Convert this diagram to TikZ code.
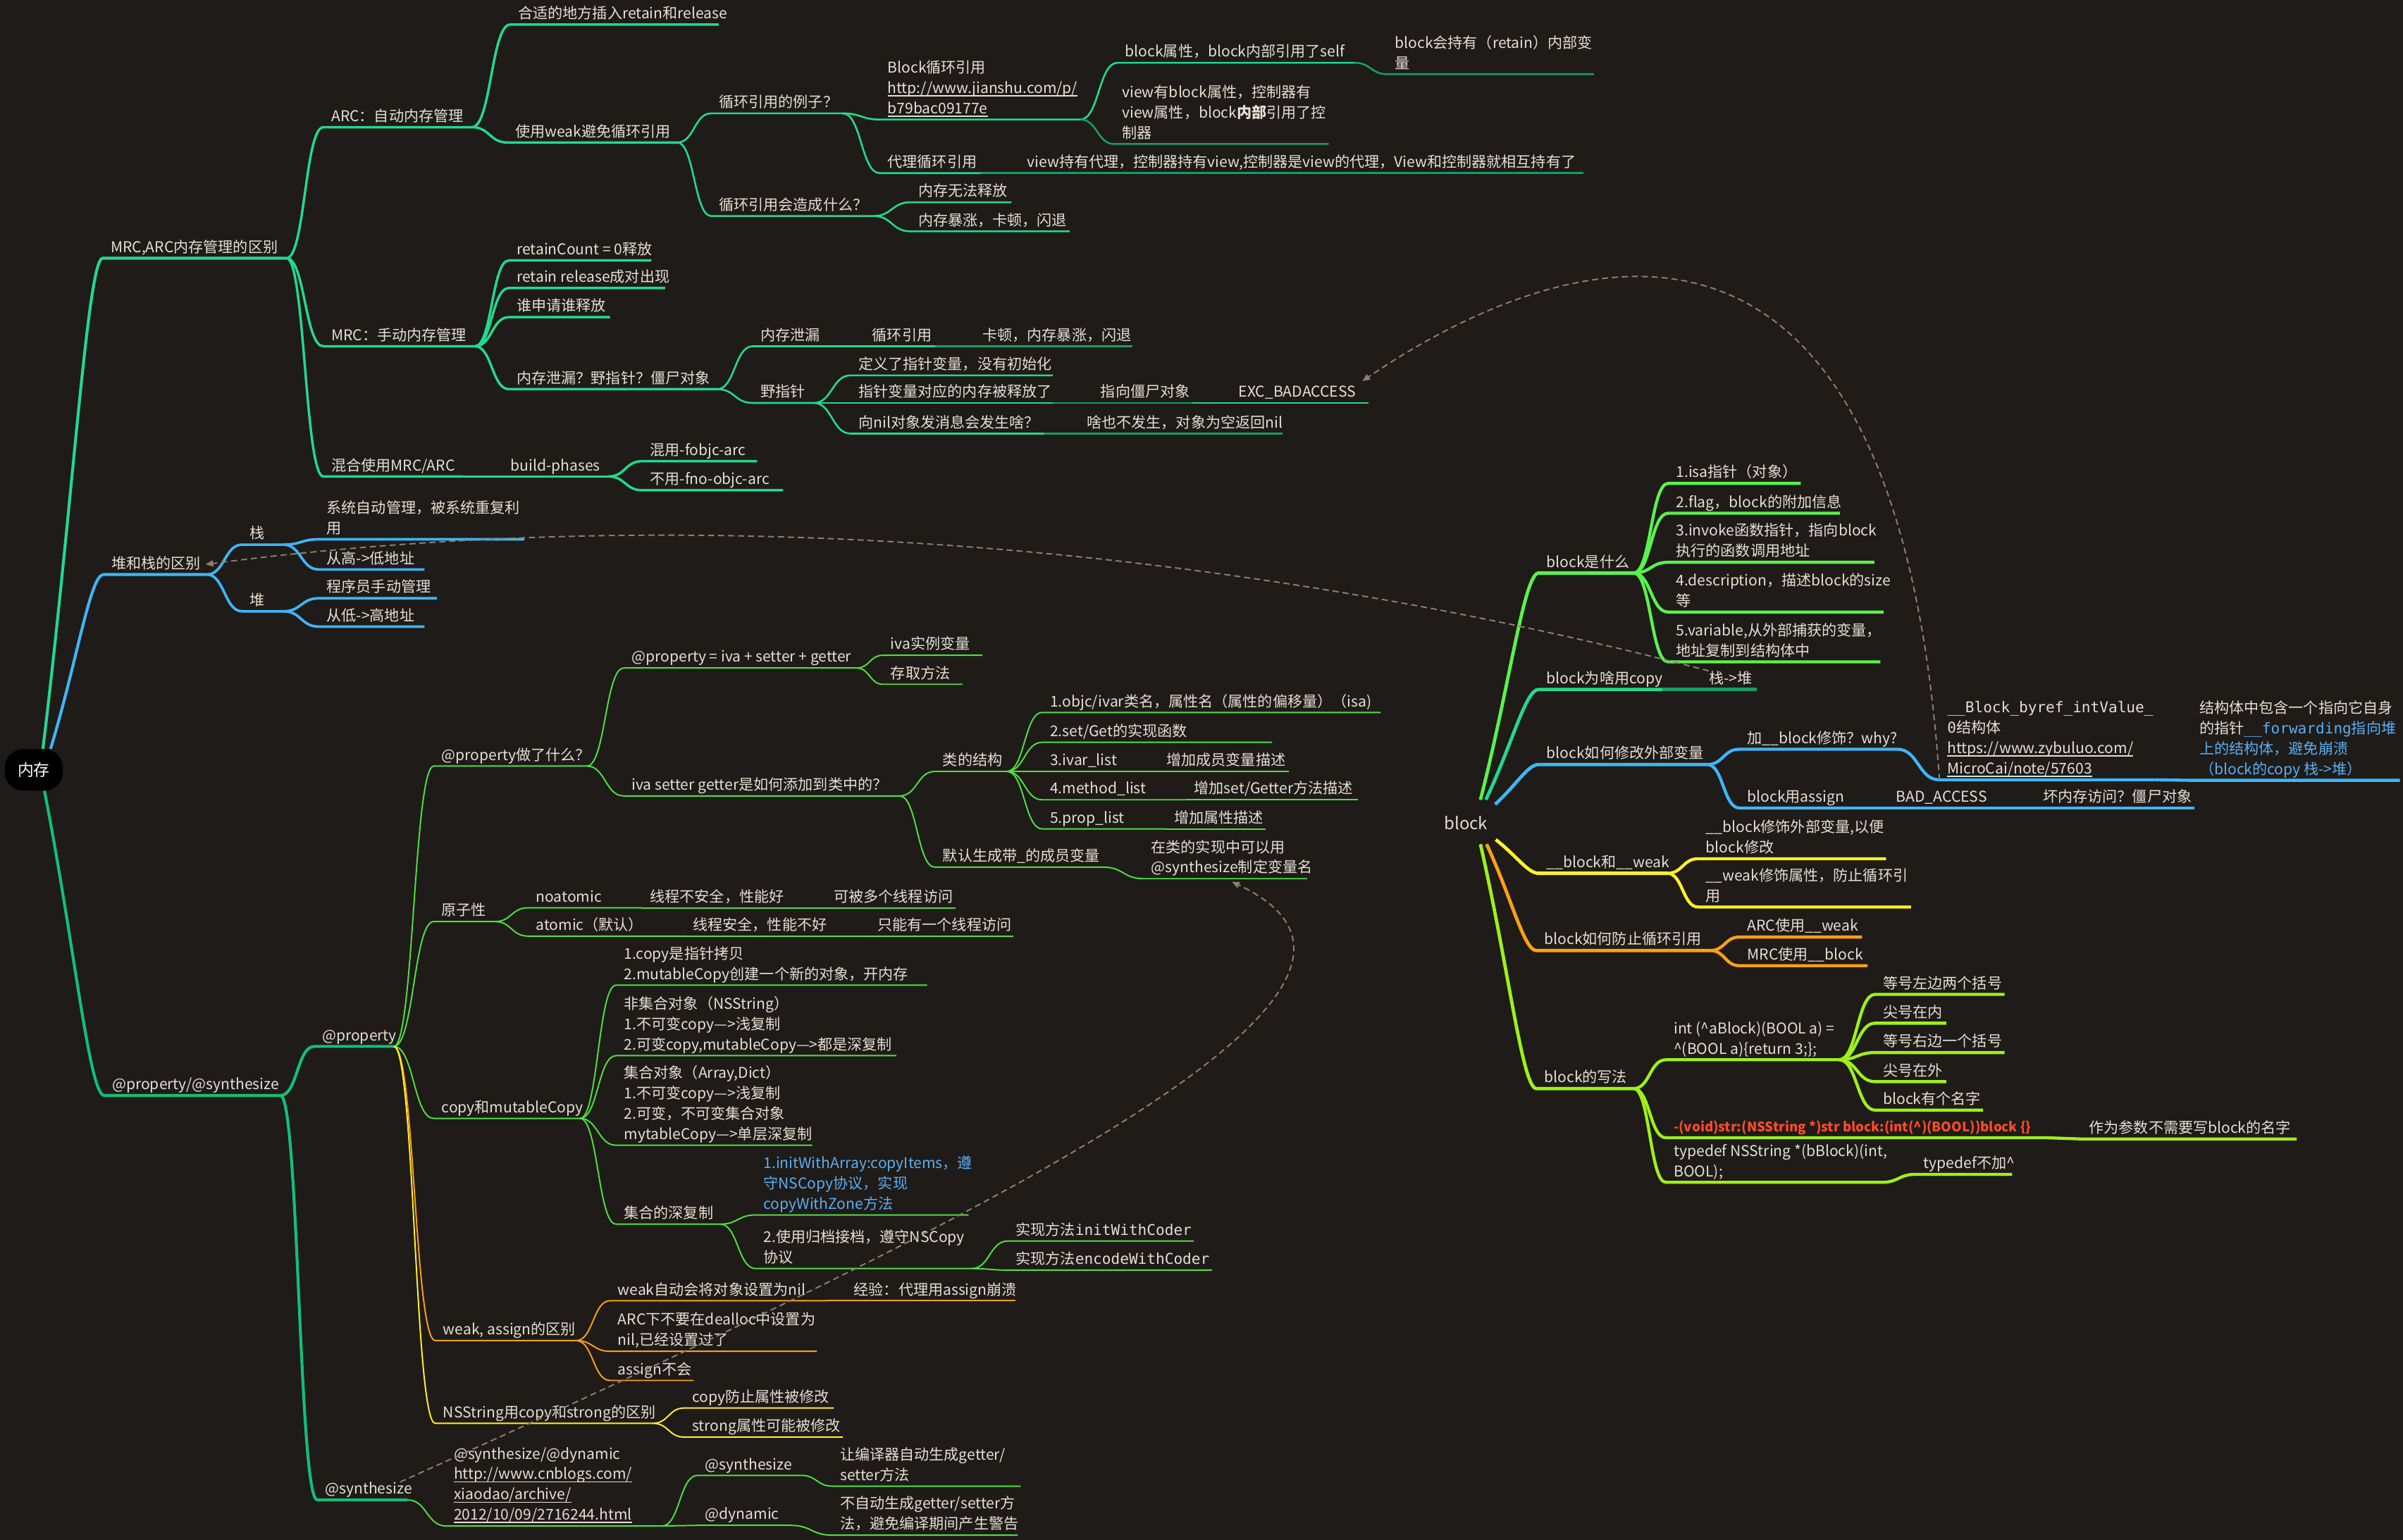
\documentclass[tikz,border=0pt]{standalone}
\usepackage{fontspec}
\setmainfont{Noto Sans CJK SC}
\newfontfamily\monof{DejaVu Sans Mono}
\usetikzlibrary{arrows.meta}
\usetikzlibrary{calc}

\definecolor{bgc}{HTML}{1F1B18}
\definecolor{ink}{HTML}{E4E0D4}
\definecolor{mrcc}{HTML}{22D98E}
\definecolor{mrcd}{HTML}{179C68}
\definecolor{stackc}{HTML}{3FB5F6}
\definecolor{propc}{HTML}{10C078}
\definecolor{leafg}{HTML}{4DE03F}
\definecolor{orng}{HTML}{FFA015}
\definecolor{yel}{HTML}{FFF02A}
\definecolor{blkg}{HTML}{5AF24C}
\definecolor{ygrn}{HTML}{9EF01A}
\definecolor{redc}{HTML}{FF4B2A}
\definecolor{linkb}{HTML}{5AAEF2}
\definecolor{dashc}{HTML}{8C7F70}

\tikzset{
  txt/.style={anchor=south west, xshift=5pt, yshift=1pt, inner sep=0pt, align=left,
    text=ink, font=\fontsize{9.7}{13.3}\selectfont},
  rootbox/.style={fill=black, rounded corners=12pt, minimum width=38pt, minimum height=27pt,
    inner sep=1pt, text=white, font=\fontsize{10.5}{12}\selectfont},
  sbend/.style={to path={let \p1=(\tikztostart), \p2=(\tikztotarget) in
    .. controls ({(\x1+\x2)/2},\y1) and ({(\x1+\x2)/2},\y2) .. (\tikztotarget)}},
  rootbend/.style={to path={let \p1=(\tikztostart), \p2=(\tikztotarget) in
    .. controls ($(\p1)!0.5!(\p2)$) and ({\x2-0.25*(\x2-\x1)},\y2) .. (\tikztotarget)}},
  mrcA/.style={draw=mrcc, line width=1.9pt},
  mrcB/.style={draw=mrcc, line width=1.6pt},
  mrcC/.style={draw=mrcc, line width=1.2pt},
  mrcD/.style={draw=mrcd, line width=1.2pt},
  heapA/.style={draw=stackc, line width=1.9pt},
  heapB/.style={draw=stackc, line width=1.7pt},
  propA/.style={draw=propc, line width=1.9pt},
  grnln/.style={draw=leafg, line width=0.9pt},
  orgln/.style={draw=orng, line width=0.9pt},
  yelln/.style={draw=yel, line width=0.9pt},
  blkA/.style={draw=blkg, line width=2.2pt},
  blkB/.style={draw=blkg, line width=2pt},
  copyA/.style={draw=mrcc, line width=2.2pt},
  copyB/.style={draw=mrcd, line width=2pt},
  bluA/.style={draw=stackc, line width=2.2pt},
  bluB/.style={draw=stackc, line width=2pt},
  yelA/.style={draw=yel, line width=2.2pt},
  yelB/.style={draw=yel, line width=2pt},
  orgA/.style={draw=orng, line width=2.2pt},
  orgB/.style={draw=orng, line width=2pt},
  ygrA/.style={draw=ygrn, line width=2.2pt},
  ygrB/.style={draw=ygrn, line width=2pt},
  dashlink/.style={draw=dashc, line width=0.9pt, dash pattern=on 4pt off 2.5pt,
    -{Triangle[length=5pt,width=4pt]}},
}

% parent, name, x start, x end, y, line style, text
\newcommand{\twig}[7]{%
  \coordinate (#2-s) at (#3,#5);
  \coordinate (#2-e) at (#4,#5);
  \draw[sbend,#6] (#1) to (#2-s) -- (#2-e);
  \node[txt] (#2) at (#2-s) {#7\rule[-2.6pt]{0pt}{0pt}};
}
% underlined link text
\newcommand{\lnk}[1]{\setbox0\hbox{#1}\rlap{\rule[-1.9pt]{\wd0}{0.7pt}}\box0}

\begin{document}
\begin{tikzpicture}[x=1pt,y=-1pt]
  \fill[bgc] (0,0) rectangle (1568,1005);
  \useasboundingbox (0,0) rectangle (1568,1005);

  \node[rootbox] (mem) at (22,502.5) {内存};
  \coordinate (mem-a) at ([xshift=6pt]mem.north);
  \coordinate (mem-b) at ([xshift=11pt]mem.north);
  \coordinate (mem-c) at ([xshift=7pt]mem.south);

  % MRC / ARC
  \twig{mem-a}{mrc}{67}{187}{168.5}{mrcA,rootbend}{MRC,ARC内存管理的区别}
  \twig{mrc-e}{arc}{211}{308}{83}{mrcB}{ARC：自动内存管理}
  \twig{mrc-e}{mrcm}{211}{310}{226}{mrcB}{MRC：手动内存管理}
  \twig{mrc-e}{mix}{211}{302}{311}{mrcB}{混合使用MRC/ARC}
  \twig{arc-e}{ins}{333}{469}{16}{mrcB}{合适的地方插入retain和release}
  \twig{arc-e}{weak}{331}{442}{93}{mrcB}{使用weak避免循环引用}
  \twig{weak-e}{eg}{464}{550}{74}{mrcC}{循环引用的例子？}
  \twig{weak-e}{cyc}{464}{570}{141}{mrcC}{循环引用会造成什么？}
  \twig{eg-e}{bcyc}{574}{705}{78}{mrcC}{Block循环引用\\\lnk{http://www.jianshu.com/p/}\\\lnk{b79bac09177e}}
  \twig{bcyc-e}{bself}{729}{884}{41}{mrcC}{block属性，block内部引用了self}
  \twig{bself-e}{bret}{905}{1040}{48.4}{mrcD}{block会持有（retain）内部变\\量}
  \twig{bcyc-e}{vblk}{727}{867}{94}{mrcD}{view有block属性，控制器有\\view属性，block\textbf{内部}引用了控\\制器}
  \twig{eg-e}{dcyc}{574}{640}{113}{mrcC}{代理循环引用}
  \twig{dcyc-e}{dview}{665}{1033}{113}{mrcD}{view持有代理，控制器持有view,控制器是view的代理，View和控制器就相互持有了}
  \twig{cyc-e}{nofree}{594}{660}{132}{mrcC}{内存无法释放}
  \twig{cyc-e}{boom}{594}{698}{151}{mrcC}{内存暴涨，卡顿，闪退}
  \twig{mrcm-e}{rc0}{332}{425}{170}{mrcB}{retainCount = 0释放}
  \twig{mrcm-e}{rc1}{332}{434}{188}{mrcB}{retain release成对出现}
  \twig{mrcm-e}{rc2}{332}{398}{207}{mrcB}{谁申请谁释放}
  \twig{mrcm-e}{leak}{332}{468}{254}{mrcB}{内存泄漏？野指针？僵尸对象}
  \twig{leak-e}{lk}{491}{540}{226}{mrcC}{内存泄漏}
  \twig{lk-e}{lk2}{564}{610}{226}{mrcC}{循环引用}
  \twig{lk2-e}{lk3}{636}{739}{226}{mrcD}{卡顿，内存暴涨，闪退}
  \twig{leak-e}{wild}{491}{531}{263}{mrcC}{野指针}
  \twig{wild-e}{wd1}{555}{687}{245}{mrcC}{定义了指针变量，没有初始化}
  \twig{wild-e}{wd2}{555}{687}{263}{mrcC}{指针变量对应的内存被释放了}
  \twig{wd2-e}{wd2a}{713}{778}{263}{mrcD}{指向僵尸对象}
  \twig{wd2a-e}{wd2b}{803}{893}{263}{mrcC}{EXC\_BADACCESS}
  \twig{wild-e}{wd3}{555}{681}{283}{mrcC}{向nil对象发消息会发生啥？}
  \twig{wd3-e}{wd3a}{704}{837}{283}{mrcD}{啥也不发生，对象为空返回nil}
  \twig{mix-e}{bp}{328}{397}{311}{mrcB}{build-phases}
  \twig{bp-e}{bp1}{419}{494}{301}{mrcB}{混用-fobjc-arc}
  \twig{bp-e}{bp2}{419}{511}{320}{mrcB}{不用-fno-objc-arc}

  % heap and stack
  \twig{mem-b}{heap}{67.5}{135}{375}{heapA,rootbend}{堆和栈的区别}
  \twig{heap-e}{stk}{158}{185}{355.5}{heapB}{栈}
  \twig{heap-e}{hp}{158}{185}{399}{heapB}{堆}
  \twig{stk-e}{stk1}{208}{342}{352}{heapB}{系统自动管理，被系统重复利\\用}
  \twig{stk-e}{stk2}{208}{277}{371.7}{heapB}{从高->低地址}
  \twig{hp-e}{hp1}{208}{285}{390.5}{heapB}{程序员手动管理}
  \twig{hp-e}{hp2}{208}{277}{409}{heapB}{从低->高地址}

  % @property / @synthesize
  \twig{mem-c}{ps}{68}{183}{715}{propA,rootbend}{@property/@synthesize}
  \twig{ps-e}{prop}{205}{257}{683}{propA}{@property}
  \twig{ps-e}{syn}{207}{266}{979}{propA}{@synthesize}
  \twig{prop-e}{pdo}{283}{383}{500}{grnln}{@property做了什么？}
  \twig{pdo-e}{pp1}{407}{559}{436}{grnln}{@property = iva + setter + getter}
  \twig{pp1-e}{pp1a}{576}{641}{427.7}{grnln}{iva实例变量}
  \twig{pp1-e}{pp1b}{576}{628}{446.6}{grnln}{存取方法}
  \twig{pdo-e}{pp2}{407}{587}{519.5}{grnln}{iva setter getter是如何添加到类中的？}
  \twig{pp2-e}{cls}{610}{657}{503.5}{grnln}{类的结构}
  \twig{cls-e}{cl1}{680}{901}{465}{grnln}{1.objc/ivar类名，属性名（属性的偏移量）（isa)}
  \twig{cls-e}{cl2}{680}{830}{484.5}{grnln}{2.set/Get的实现函数}
  \twig{cls-e}{cl3}{680}{756}{503.5}{grnln}{3.ivar\_list}
  \twig{cl3-e}{cl3a}{756}{841}{503.5}{grnln}{增加成员变量描述}
  \twig{cls-e}{cl4}{680}{774}{522}{grnln}{4.method\_list}
  \twig{cl4-e}{cl4a}{774}{886}{522}{grnln}{增加set/Getter方法描述}
  \twig{cls-e}{cl5}{680}{761}{541}{grnln}{5.prop\_list}
  \twig{cl5-e}{cl5a}{761}{826}{541}{grnln}{增加属性描述}
  \twig{pp2-e}{dflt}{610}{720}{566}{grnln}{默认生成带\_的成员变量}
  \twig{dflt-e}{dflt1}{746}{853}{573.5}{grnln}{在类的实现中可以用\\@synthesize制定变量名}
  \twig{prop-e}{atom}{283}{323}{601.5}{grnln}{原子性}
  \twig{atom-e}{na}{344.5}{419}{592.5}{grnln}{noatomic}
  \twig{na-e}{na1}{419}{539}{592.5}{grnln}{线程不安全，性能好}
  \twig{na1-e}{na2}{539}{623.5}{592.5}{grnln}{可被多个线程访问}
  \twig{atom-e}{atm}{344.5}{447}{611}{grnln}{atomic（默认）}
  \twig{atm-e}{atm1}{447}{567.5}{611}{grnln}{线程安全，性能不好}
  \twig{atm1-e}{atm2}{567.5}{661}{611}{grnln}{只能有一个线程访问}
  \twig{prop-e}{cp}{283}{378.5}{730}{grnln}{copy和mutableCopy}
  \twig{cp-e}{cpa}{402}{605}{643}{grnln}{1.copy是指针拷贝\\2.mutableCopy创建一个新的对象，开内存}
  \twig{cp-e}{cpb}{402}{585}{689}{grnln}{非集合对象（NSString）\\1.不可变copy—>浅复制\\2.可变copy,mutableCopy—>都是深复制}
  \twig{cp-e}{cpc}{402}{530}{747.5}{grnln}{集合对象（Array,Dict）\\1.不可变copy—>浅复制\\2.可变，不可变集合对象\\mytableCopy—>单层深复制}
  \twig{cp-e}{deep}{402}{470}{799}{grnln}{集合的深复制}
  \twig{deep-e}{dp1}{493}{632}{793}{grnln}{\color{linkb}1.initWithArray:copyItems，遵\\\color{linkb}守NSCopy协议，实现\\\color{linkb}copyWithZone方法}
  \twig{deep-e}{dp2}{493}{634}{828}{grnln}{2.使用归档接档，遵守NSCopy\\协议}
  \twig{dp2-e}{co1}{657.6}{779}{810}{grnln}{实现方法{\monof initWithCoder}}
  \twig{dp2-e}{co2}{657.6}{791}{829}{grnln}{实现方法{\monof encodeWithCoder}}
  \twig{prop-e}{wa}{284}{376}{875}{orgln}{weak, assign的区别}
  \twig{wa-e}{wa1}{398}{539}{849}{orgln}{weak自动会将对象设置为nil}
  \twig{wa1-e}{wa1a}{552}{662.6}{849}{orgln}{经验：代理用assign崩溃}
  \twig{wa-e}{wa2}{398}{533}{882}{orgln}{ARC下不要在dealloc中设置为\\nil,已经设置过了}
  \twig{wa-e}{wa3}{398}{452.5}{901}{orgln}{assign不会}
  \twig{prop-e}{ns}{284}{426}{929}{yelln}{NSString用copy和strong的区别}
  \twig{ns-e}{ns1}{446.5}{544}{919}{yelln}{copy防止属性被修改}
  \twig{ns-e}{ns2}{446.5}{550}{938}{yelln}{strong属性可能被修改}
  \twig{syn-e}{sd}{291}{432}{996}{grnln}{@synthesize/@dynamic\\\lnk{http://www.cnblogs.com/}\\\lnk{xiaodao/archive/}\\\lnk{2012/10/09/2716244.html}}
  \twig{sd-e}{sd1}{455}{523}{963}{grnln}{@synthesize}
  \twig{sd1-e}{sd1a}{543}{666}{970}{grnln}{让编译器自动生成getter/\\setter方法}
  \twig{sd-e}{sd2}{455}{516}{995.6}{grnln}{@dynamic}
  \twig{sd2-e}{sd2a}{543}{664}{1002}{grnln}{不自动生成getter/setter方\\法，避免编译期间产生警告}

  % block
  \node[text=ink, font=\fontsize{11}{13}\selectfont, inner sep=0pt] (blk) at (956.5,537) {block};
  \coordinate (bk-a) at (966,522);
  \coordinate (bk-b) at (969.5,522);
  \coordinate (bk-c) at (975.6,525);
  \coordinate (bk-d) at (976,548);
  \coordinate (bk-e) at (966,551);
  \coordinate (bk-f) at (970,551);

  \twig{bk-a}{what}{1004}{1066}{374}{blkA,rootbend}{block是什么}
  \twig{what-e}{wh1}{1088.5}{1175}{315.5}{blkB}{1.isa指针（对象）}
  \twig{what-e}{wh2}{1088.5}{1200.6}{335}{blkB}{2.flag，block的附加信息}
  \twig{what-e}{wh3}{1088.5}{1223}{367}{blkB}{3.invoke函数指针，指向block\\执行的函数调用地址}
  \twig{what-e}{wh4}{1088.5}{1229}{399.5}{blkB}{4.description，描述block的size\\等}
  \twig{what-e}{wh5}{1088.5}{1227}{432}{blkB}{5.variable,从外部捕获的变量，\\地址复制到结构体中}
  \twig{bk-b}{why}{1004}{1085}{450}{copyA,rootbend}{block为啥用copy}
  \twig{why-e}{why1}{1110}{1146.5}{450}{copyB}{栈->堆}
  \twig{bk-c}{mod}{1004}{1114}{499}{bluA,rootbend}{block如何修改外部变量}
  \twig{mod-e}{mod1}{1135}{1238}{489}{bluB}{加\_\_block修饰？why?}
  \twig{mod1-e}{mod1a}{1265.5}{1405.8}{509}{bluB}{{\monof \_\_Block\_byref\_intValue\_}\\{\monof 0}结构体\\\lnk{https://www.zybuluo.com/}\\\lnk{MicroCai/note/57603}}
  \twig{mod1a-e}{mod1b}{1430}{1566}{509.3}{bluB}{结构体中包含一个指向它自身\\的指针\textcolor{linkb}{{\monof \_\_forwarding}指向堆}\\\textcolor{linkb}{上的结构体，避免崩溃}\\\textcolor{linkb}{（block的copy 栈->堆）}}
  \twig{mod-e}{mod2}{1135}{1207}{527.4}{bluB}{block用assign}
  \twig{mod2-e}{mod2a}{1232}{1303.7}{527.4}{bluB}{BAD\_ACCESS}
  \twig{mod2a-e}{mod2b}{1328}{1432}{527.4}{bluB}{坏内存访问？僵尸对象}
  \twig{bk-d}{bw}{1004}{1088}{570}{yelA,rootbend}{\_\_block和\_\_weak}
  \twig{bw-e}{bw1}{1108}{1230.6}{560.5}{yelB}{\_\_block修饰外部变量,以便\\block修改}
  \twig{bw-e}{bw2}{1108}{1247}{592}{yelB}{\_\_weak修饰属性，防止循环引\\用}
  \twig{bk-f}{prev}{1002.5}{1116}{620.4}{orgA,rootbend}{block如何防止循环引用}
  \twig{prev-e}{prev1}{1135}{1215}{611.6}{orgB}{ARC使用\_\_weak}
  \twig{prev-e}{prev2}{1135}{1218.6}{630.3}{orgB}{MRC使用\_\_block}
  \twig{bk-e}{wr}{1002.5}{1066}{710.5}{ygrA,rootbend}{block的写法}
  \twig{wr-e}{wr1}{1087}{1200}{691.7}{ygrB}{int (\textasciicircum aBlock)(BOOL a) =\\\textasciicircum(BOOL a)\{return 3;\};}
  \twig{wr1-e}{wr1a}{1223.6}{1308}{649}{ygrB}{等号左边两个括号}
  \twig{wr1-e}{wr1b}{1223.6}{1270}{667.8}{ygrB}{尖号在内}
  \twig{wr1-e}{wr1c}{1223.6}{1308}{687}{ygrB}{等号右边一个括号}
  \twig{wr1-e}{wr1d}{1223.6}{1270}{706}{ygrB}{尖号在外}
  \twig{wr1-e}{wr1e}{1223.6}{1294}{724.6}{ygrB}{block有个名字}
  \twig{wr-e}{wr2}{1087}{1335.4}{742.6}{ygrB}{\textcolor{redc}{\fontsize{8.6}{13.3}\selectfont\bfseries -(void)str:(NSString *)str block:(int(\textasciicircum)(BOOL))block \{\}}}
  \twig{wr2-e}{wr2a}{1358}{1498.6}{743.4}{ygrB}{作为参数不需要写block的名字}
  \twig{wr-e}{wr3}{1087}{1227.8}{771.7}{ygrB}{typedef NSString *(bBlock)(int,\\BOOL);}
  \twig{wr3-e}{wr3a}{1250}{1313}{766.5}{ygrB}{typedef不加\textasciicircum}

  % cross links
  \draw[dashlink] (why1.north west) .. controls (700,330) and (350,340) .. ([xshift=3pt]heap.east);
  \draw[dashlink] (mod1a-s) .. controls (1235,60) and (990,180) .. ([xshift=4pt,yshift=3pt]wd2b.north east);
  \draw[dashlink] ([xshift=-8pt]syn.north east) .. controls (700,770) and (940,640) .. ([yshift=-3pt]dflt1.south);
\end{tikzpicture}
\end{document}
